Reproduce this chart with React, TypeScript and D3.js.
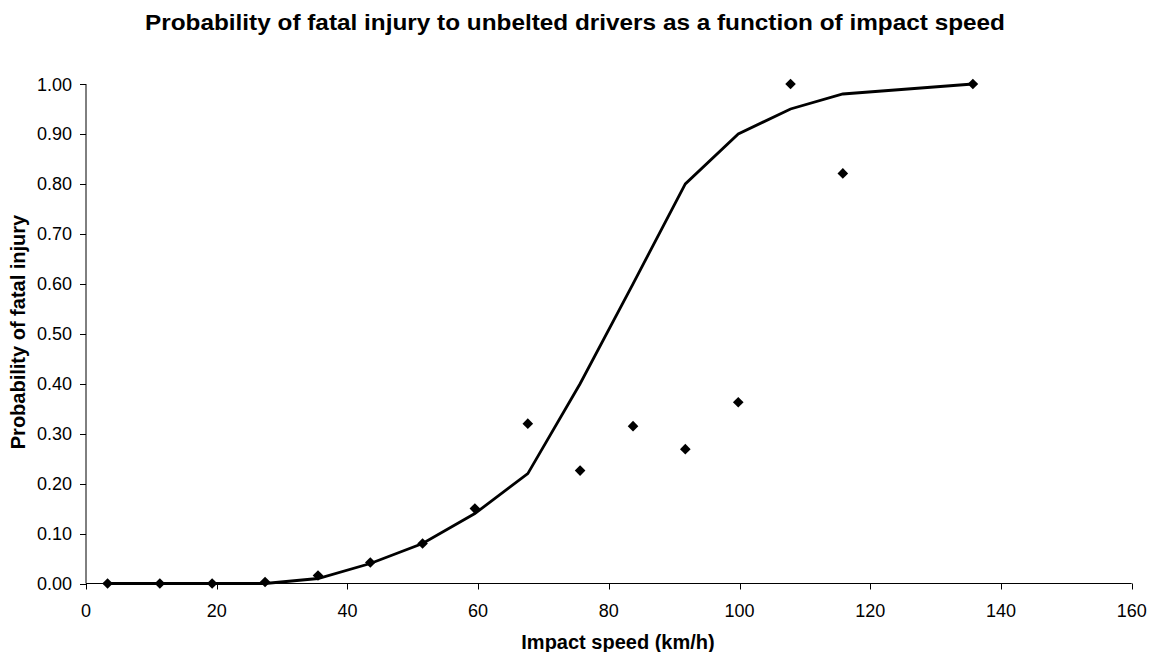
import React from "react";
import * as d3 from "d3";

const speeds = [3.3, 11.3, 19.3, 27.4, 35.5, 43.5, 51.5, 59.5, 67.6, 75.6, 83.7, 91.7, 99.8, 107.8, 115.8, 135.7];
const observed = [0, 0, 0, 0.003, 0.016, 0.042, 0.08, 0.15, 0.32, 0.226, 0.315, 0.269, 0.363, 1.0, 0.821, 1.0];
const fitted = [0, 0, 0, 0, 0.01, 0.04, 0.08, 0.14, 0.22, 0.4, 0.6, 0.8, 0.9, 0.95, 0.98, 1.0];
const xTicks = [0, 20, 40, 60, 80, 100, 120, 140, 160];
const yTicks = [0, 0.1, 0.2, 0.3, 0.4, 0.5, 0.6, 0.7, 0.8, 0.9, 1.0];

const W = 1149;
const H = 652;
const FONT = "'Liberation Sans', Arial, sans-serif";

export default function App() {
  const x = d3.scaleLinear().domain([0, 160]).range([86, 1131.7]);
  const y = d3.scaleLinear().domain([0, 1]).range([583.5, 84]);
  const line = d3
    .line<number>()
    .x((_, i) => x(speeds[i]))
    .y((d) => y(d));
  const r = 5.3;
  const diamond = `M0,${-r}L${r},0L0,${r}L${-r},0Z`;
  return (
    <svg width={W} height={H} style={{ position: "absolute", left: 0, top: 0, background: "#fff" }}>
      <rect x={0} y={0} width={W} height={H} fill="#fff" />
      <text
        x={575}
        y={30}
        textAnchor="middle"
        fontFamily={FONT}
        fontWeight="bold"
        fontSize={21.5}
        textLength={860}
        lengthAdjust="spacingAndGlyphs"
      >
        Probability of fatal injury to unbelted drivers as a function of impact speed
      </text>
      {/* axes */}
      <line x1={x(0)} x2={x(0)} y1={y(1)} y2={y(0)} stroke="#000" strokeWidth={1} />
      <line x1={x(0)} x2={x(160)} y1={y(0)} y2={y(0)} stroke="#000" strokeWidth={1} />
      {yTicks.map((t) => (
        <g key={"y" + t}>
          <line x1={x(0) - 6} x2={x(0)} y1={Math.round(y(t)) + 0.5} y2={Math.round(y(t)) + 0.5} stroke="#000" />
          <text x={72} y={y(t) + 6.5} textAnchor="end" fontFamily={FONT} fontSize={18}>
            {d3.format(".2f")(t)}
          </text>
        </g>
      ))}
      {xTicks.map((t) => (
        <g key={"x" + t}>
          <line x1={Math.round(x(t)) + 0.5} x2={Math.round(x(t)) + 0.5} y1={y(0)} y2={y(0) + 6} stroke="#000" />
          <text x={x(t)} y={616.5} textAnchor="middle" fontFamily={FONT} fontSize={18}>
            {t}
          </text>
        </g>
      ))}
      <text x={618} y={649} textAnchor="middle" fontFamily={FONT} fontWeight="bold" fontSize={20}>
        Impact speed (km/h)
      </text>
      <text
        transform={`translate(25, ${332}) rotate(-90)`}
        textAnchor="middle"
        fontFamily={FONT}
        fontWeight="bold"
        fontSize={20}
      >
        Probability of fatal injury
      </text>
      <path d={line(fitted) || ""} fill="none" stroke="#000" strokeWidth={2.8} strokeLinejoin="miter" />
      {observed.map((v, i) => (
        <path key={i} d={diamond} transform={`translate(${x(speeds[i])},${y(v)})`} fill="#000" />
      ))}
    </svg>
  );
}
